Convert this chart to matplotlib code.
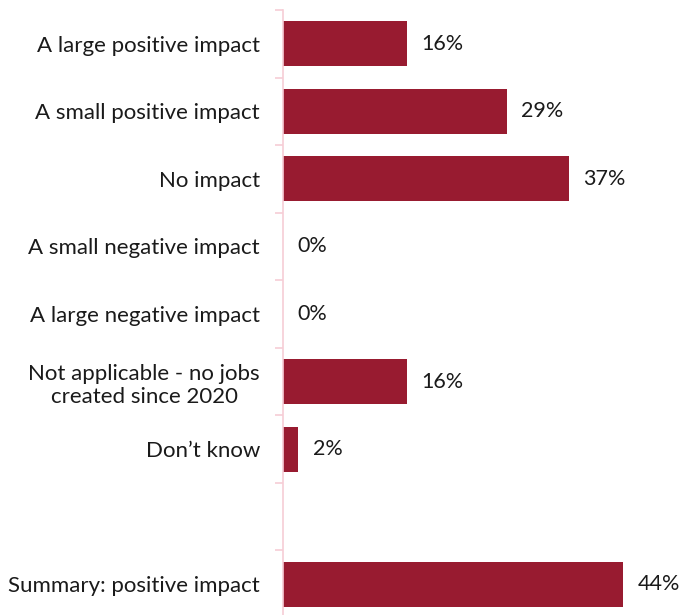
import matplotlib.pyplot as plt
import numpy as np

# ---------- Data ----------
categories = [
    "A large positive impact",
    "A small positive impact",
    "No impact",
    "A small negative impact",
    "A large negative impact",
    "Not applicable - no jobs\ncreated since 2020",
    "Don\u2019t know",
    "",
    "Summary: positive impact",
]
values = [16, 29, 37, 0, 0, 16, 2, None, 44]

bar_color = "#981B30"
axis_color = "#F6CDD6"

plt.rcParams["font.family"] = ["Lato", "DejaVu Sans"]

fig = plt.figure(figsize=(6.8, 6.15), dpi=100)
ax = fig.add_axes([283 / 680, -3 / 615, 50 * 7.72 / 680, 608 / 615])

pos = np.arange(len(categories))
for y, v in zip(pos, values):
    if v is None:
        continue
    ax.barh(y, v, height=0.665, color=bar_color)
    ax.annotate(f"{v}%", xy=(v, y), xytext=(10.5, 0), textcoords="offset points",
                ha="left", va="center", fontsize=15.5, color="#1a1a1a")

ax.set_xlim(0, 50)
ax.set_ylim(len(categories) - 0.5, -0.5)

ax.set_yticks(pos)
ax.set_yticklabels(categories, fontsize=16, color="#1a1a1a",
                   multialignment="center", linespacing=1.2)
ax.set_yticks(np.arange(-0.5, len(categories)), minor=True)
ax.tick_params(axis="y", which="major", length=0, pad=16.5)
ax.tick_params(axis="y", which="minor", length=6, width=1.2, color=axis_color)
ax.set_xticks([])

for side in ["top", "right", "bottom"]:
    ax.spines[side].set_visible(False)
ax.spines["left"].set_color(axis_color)
ax.spines["left"].set_linewidth(1.2)

fig.savefig("out.png", dpi=100)
